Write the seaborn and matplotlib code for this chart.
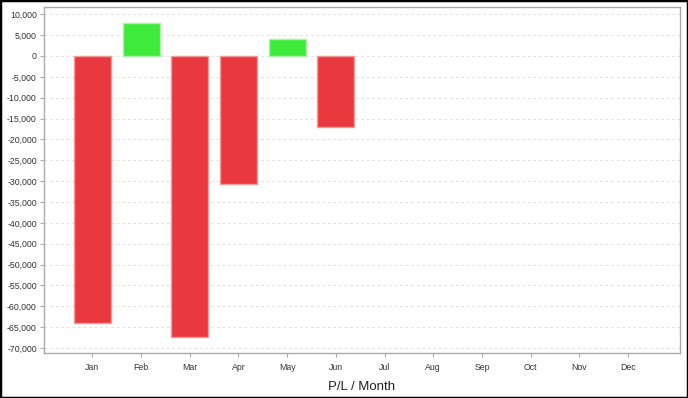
import numpy as np
import pandas as pd
import matplotlib
matplotlib.use("Agg")
import matplotlib.pyplot as plt
from matplotlib.patches import Rectangle
from matplotlib.ticker import FuncFormatter, MultipleLocator
import seaborn as sns

RED = "#E9393E"
GREEN = "#3EEB3A"
RED_EDGE = "#F29A9C"
GREEN_EDGE = "#A8F2A5"

months = ["Jan", "Feb", "Mar", "Apr", "May", "Jun", "Jul", "Aug", "Sep", "Oct", "Nov", "Dec"]
pl_months = ["Jan", "Feb", "Mar", "Apr", "May", "Jun"]
pl_values = [-64100, 7800, -67400, -30800, 4100, -17100]

df = pd.DataFrame({"Month": pl_months, "PL": pl_values})
df["Sign"] = np.where(df["PL"] >= 0, "gain", "loss")

sns.set_style("white")
plt.rcParams["font.family"] = ["Liberation Sans", "DejaVu Sans"]
fig = plt.figure(figsize=(6.88, 3.98), dpi=100)
ax = fig.add_axes([0.0635, 0.113, 0.925, 0.869])

sns.barplot(data=df, x="Month", y="PL", hue="Sign", order=months,
            palette={"gain": GREEN, "loss": RED}, dodge=False, width=0.76,
            legend=False, ax=ax, saturation=1)

# lighter outline on each bar
for p in ax.patches:
    if p.get_height() >= 0:
        p.set_edgecolor(GREEN_EDGE)
    else:
        p.set_edgecolor(RED_EDGE)
    p.set_linewidth(1.0)

ax.set_xlim(-1, 12.07)
ax.set_ylim(-71200, 11700)
ax.yaxis.set_major_locator(MultipleLocator(5000))
ax.yaxis.set_major_formatter(FuncFormatter(lambda v, pos: f"{int(v):,}"))
ax.grid(axis="y", color="#e2e2e2", linestyle=(0, (2.5, 2.5)), linewidth=0.8)
ax.set_axisbelow(True)

for s in ax.spines.values():
    s.set_color("#aaaaaa")
    s.set_linewidth(1.0)

ax.tick_params(axis="both", which="major", labelsize=6.3, labelcolor="#333333",
               color="#aaaaaa", length=3, width=0.8, direction="out",
               left=True, bottom=True)
ax.tick_params(axis="y", pad=2)
ax.tick_params(axis="x", pad=4)
ax.set_ylabel("")
ax.set_xlabel("P/L / Month", fontsize=9.5, color="#222222", labelpad=7)

fig.patches.append(Rectangle((0, 0), 1, 1, transform=fig.transFigure,
                             fill=False, edgecolor="black", linewidth=2.5))

fig.savefig("out.png", dpi=100)
